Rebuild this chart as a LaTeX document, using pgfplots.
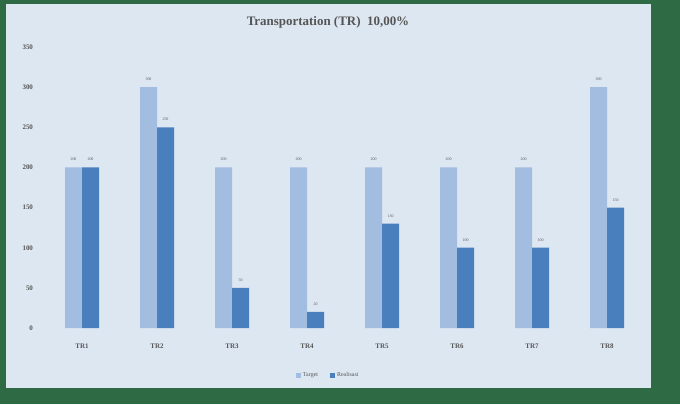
\documentclass[border=0pt]{standalone}
\usepackage{pgfplots}
\pgfplotsset{compat=1.18}
\usepackage{fontspec}
\setmainfont{Liberation Serif}
\definecolor{frame}{HTML}{2E6B45}
\definecolor{bg}{HTML}{DDE7F2}
\definecolor{lightbar}{HTML}{A3BDE0}
\definecolor{darkbar}{HTML}{4A7FBE}
\definecolor{txt}{HTML}{555555}
\begin{document}
\begin{tikzpicture}[x=1bp,y=1bp]
\useasboundingbox (0,0) rectangle (680,404);
\fill[frame] (0,0) rectangle (680,404);
\fill[bg] (6,16) rectangle (651,400);
\node[font=\fontsize{13}{15}\selectfont\bfseries, text=txt] at (328,382) {Transportation (TR)\ \ 10,00\%};
\begin{axis}[
  at={(44.5bp,76bp)}, anchor=south west,
  scale only axis, width=600bp, height=281bp,
  xmin=-0.5, xmax=7.5, ymin=0, ymax=350,
  ytick={0,50,...,350},
  xtick=data,
  xticklabels={TR1,TR2,TR3,TR4,TR5,TR6,TR7,TR8},
  axis line style={draw=none},
  major tick length=0pt,
  tick label style={font=\fontsize{7}{8}\selectfont\bfseries, text=txt},
  /pgf/number format/assume math mode=true,
  yticklabel style={xshift=-8bp},
  xticklabel style={yshift=-12bp},
  ybar=0pt, bar width=17bp,
  nodes near coords,
  nodes near coords style={font=\fontsize{4}{5}\selectfont, text=txt, yshift=3bp},
  legend style={at={(0.473,-0.168)}, anchor=center, draw=none, fill=none,
    font=\fontsize{6}{7}\selectfont, text=txt, legend columns=2,
    /tikz/every even column/.append style={column sep=10bp}},
  legend image code/.code={\fill[#1] (0,-2.5bp) rectangle (5bp,2.5bp);},
]
\addplot[fill=lightbar, draw=none] coordinates {(0,200) (1,300) (2,200) (3,200) (4,200) (5,200) (6,200) (7,300)};
\addplot[fill=darkbar, draw=none] coordinates {(0,200) (1,250) (2,50) (3,20) (4,130) (5,100) (6,100) (7,150)};
\legend{Target, Realisasi}
\end{axis}
\end{tikzpicture}
\end{document}
